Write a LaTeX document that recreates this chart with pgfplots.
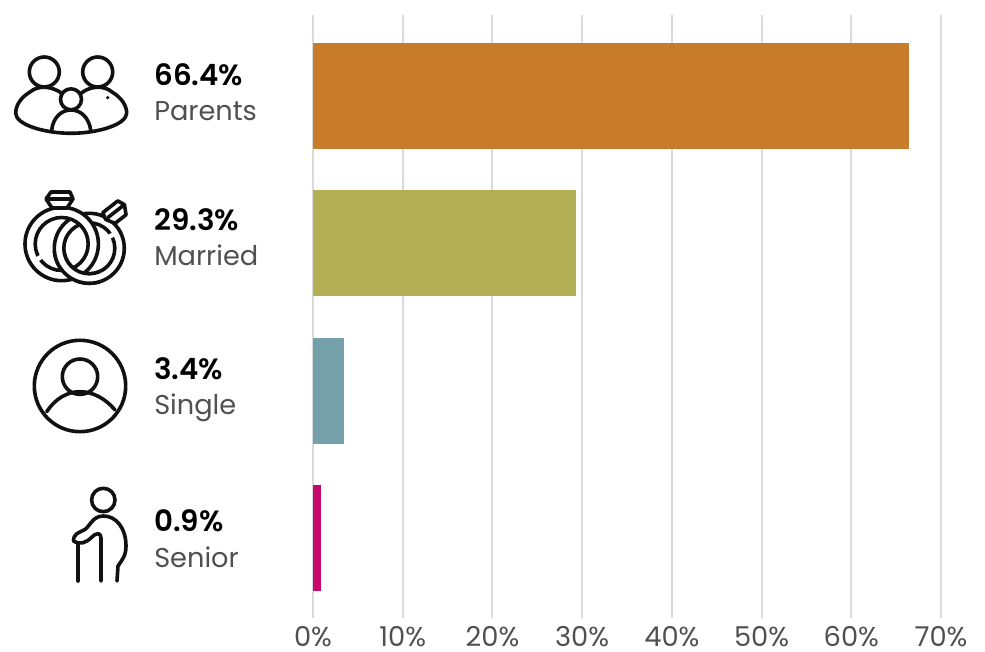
\documentclass[border=0pt]{standalone}
\usepackage{fontspec}
\setmainfont{Poppins}
\newfontfamily\figurefont{Poppins SemiBold}
\usepackage{pgfplots}
\pgfplotsset{compat=1.18}
\definecolor{parentsbar}{HTML}{C97B2C}
\definecolor{marriedbar}{HTML}{B3AF55}
\definecolor{singlebar}{HTML}{73A0A9}
\definecolor{seniorbar}{HTML}{C8076F}
\definecolor{gridgray}{HTML}{DADADA}
\definecolor{labelgray}{HTML}{505050}
\definecolor{icon}{HTML}{111111}
\newcommand{\grouplabel}[4]{%
  \node[anchor=base west,inner sep=0pt,font=\fontsize{22pt}{24pt}\figurefont,text=black] at (154,#1) {#3};
  \node[anchor=base west,inner sep=0pt,font=\fontsize{20.4pt}{22pt}\selectfont,text=labelgray] at (154,#2) {#4};
}
\begin{document}
\begin{tikzpicture}[x=0.75pt,y=-0.75pt,yshift=489pt]
\useasboundingbox (0,0) rectangle (985,652);
\coordinate (plotcorner) at (313,618);
\begin{axis}[
  at={(plotcorner)},anchor=south west,
  scale only axis,
  width=471pt,height=452.25pt,
  xmin=0,xmax=70,
  ymin=-0.55,ymax=3.543,
  y dir=reverse,
  axis line style={draw=none},
  xtick={0,10,...,70},
  xticklabel={\pgfmathprintnumber{\tick}\%},
  /pgf/number format/assume math mode=true,
  x tick label style={font=\fontsize{20.5pt}{23pt}\selectfont,text=labelgray,inner sep=0pt,yshift=-6pt},
  xmajorgrids,
  major grid style={draw=gridgray,line width=1.5pt},
  major tick length=0pt,
  ytick=\empty,
  xbar,
  bar width=79.5pt,
  bar shift=0pt,
  clip=false,
]
\addplot[fill=parentsbar,draw=none] coordinates {(66.4,0)};
\addplot[fill=marriedbar,draw=none] coordinates {(29.3,1)};
\addplot[fill=singlebar,draw=none] coordinates {(3.4,2)};
\addplot[fill=seniorbar,draw=none] coordinates {(0.9,3)};
\end{axis}
\grouplabel{86}{121}{66.4\%}{Parents}
\grouplabel{231}{266}{29.3\%}{Married}
\grouplabel{380}{415}{3.4\%}{Single}
\grouplabel{532}{568}{0.9\%}{Senior}
\begin{scope}[draw=icon,line width=2.7pt,line cap=round,line join=round]
% family icon
\draw (44.3,72) circle[radius=15];
\draw (97.7,72) circle[radius=15];
\draw (71,99.3) circle[radius=10.5];
\draw (61.7,93.3) .. controls (52,86) and (38,85) .. (30,92) .. controls (20,98) and (15.7,106) .. (15.7,113.3)
  .. controls (16,125) and (45,133.3) .. (71,133.3) .. controls (97,133.3) and (126,125) .. (126.7,113.3)
  .. controls (126.7,106) and (122,98) .. (112,92) .. controls (104,85) and (90,86) .. (81,93.3);
\draw (51.7,130) .. controls (53,118) and (61,110) .. (71,110) .. controls (81,110) and (89,118) .. (90.7,130);
\fill[icon] (107.7,97.7) circle[radius=1.8];
% wedding rings icon: the right ring passes under the left one at the top and over it at the bottom
\draw[fill=white,even odd rule] (89.3,248.3) circle[radius=35] (89.3,248.3) circle[radius=25.5];
\draw[fill=white,even odd rule] (61.7,244) circle[radius=36.7] (61.7,244) circle[radius=26.5];
\begin{scope}
\clip (40,252) rectangle (100,300);
\draw[fill=white,even odd rule] (89.3,248.3) circle[radius=35] (89.3,248.3) circle[radius=25.5];
\end{scope}
% small highlight gaps in the inner edges
\draw[white,line width=3.4pt,line cap=butt] (61.7,244) ++(143:26.5) arc[start angle=143,end angle=153,radius=26.5];
\draw[white,line width=3.4pt,line cap=butt] (89.3,248.3) ++(-35:25.5) arc[start angle=-35,end angle=-25,radius=25.5];
\draw[fill=white] (51,192) -- (70,192) -- (73,199) -- (67,208) -- (52,208) -- (46,199) -- cycle;
\draw (48,199) -- (71,199);
\draw[fill=white,rotate around={38:(115,212)}] (105,205) -- (124,205) -- (127,212) -- (122,221) -- (108,221) -- (103,212) -- cycle;
\draw[rotate around={38:(115,212)}] (106,212) -- (124,212);
% person icon
\draw (80,386) circle[radius=45.7];
\draw (80,376.7) circle[radius=17.7];
\draw (46.7,411.7) .. controls (55,399) and (67,391.7) .. (80,391.7) .. controls (93,391.7) and (106,399) .. (115,410);
% senior icon
\draw (103.3,500) circle[radius=11.7];
\draw (73.5,541) .. controls (73.5,534) and (78,533) .. (84,530) .. controls (90,527) and (92,516) .. (103.5,516)
  .. controls (116,516) and (126,528) .. (126,546) .. controls (126,556) and (122,560) .. (118,566) -- (117,581);
\draw (73.5,541) .. controls (80,545) and (86,543) .. (92,537) .. controls (97,532) and (101,533) .. (101,538) -- (101,581);
\draw (78,544) -- (78,581);
\end{scope}
\end{tikzpicture}
\end{document}
